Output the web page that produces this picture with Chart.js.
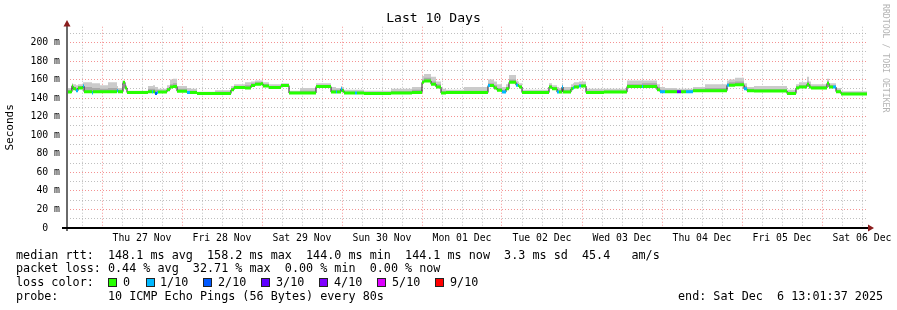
<!DOCTYPE html>
<html><head><meta charset="utf-8">
<script src="https://cdn.jsdelivr.net/npm/chart.js@4/dist/chart.umd.min.js"></script>
<style>
html,body{margin:0;padding:0;background:#fff;}
#wrap{position:relative;width:897px;height:310px;overflow:hidden;background:#fff;}
canvas{position:absolute;left:0;top:0;}
.t{position:absolute;font-family:"DejaVu Sans Mono",monospace;font-size:11.76px;line-height:14px;white-space:pre;color:#000;}
.box{position:absolute;width:7px;height:7px;border:1px solid #222;top:278px;}
#wm{position:absolute;left:881px;top:4px;writing-mode:vertical-rl;font-family:"DejaVu Sans Mono",monospace;font-size:8.2px;line-height:10px;color:#b4b4b4;white-space:pre;}
</style></head>
<body>
<div id="wrap">
<canvas id="c" width="897" height="310"></canvas>
<div id="wm">RRDTOOL / TOBI OETIKER</div>
<div class="t" style="left:16px;top:247.5px">median rtt:  148.1 ms avg  158.2 ms max  144.0 ms min  144.1 ms now  3.3 ms sd  45.4   am/s</div>
<div class="t" style="left:16px;top:261.3px">packet loss: 0.44 % avg  32.71 % max  0.00 % min  0.00 % now</div>
<div class="t" style="left:16px;top:275.3px">loss color:</div>
<div id="legend"></div>
<div class="t" style="left:16px;top:289px">probe:       10 ICMP Echo Pings (56 Bytes) every 80s</div>
<div class="t" style="left:678px;top:289px">end: Sat Dec  6 13:01:37 2025</div>
</div>
<script>
// ---- data (hours since window start; 10 days = 240 h) ----
const dayLabels = ['Thu 27 Nov','Fri 28 Nov','Sat 29 Nov','Sun 30 Nov','Mon 01 Dec','Tue 02 Dec','Wed 03 Dec','Thu 04 Dec','Fri 05 Dec','Sat 06 Dec'];
const yTickValues = [0,10,20,30,40,50,60,70,80,90,100,110,120,130,140,150,160,170,180,190,200,210];
const lossLegend = ['0','1/10','2/10','3/10','4/10','5/10','9/10'];
const lossLegendColors = ['#26ff00','#00b8ff','#0059ff','#5e00ff','#7e00ff','#dd00ff','#ff0000'];
const lossColors = ['#26ff00','#00b8ff','#0059ff','#5e00ff','#7e00ff','#dd00ff','#ff0000','#ff0000','#ff0000','#ff0000','#ff0000'];
const END_T = 240;
// step start times (h)
const T = [0,1.2,1.5,1.8,2.7,3.3,4.8,5.1,7.5,7.8,9.9,12.3,15,15.3,16.8,17.4,18,24.3,25.5,25.8,
 26.4,27,27.3,30,30.9,31.8,33,36,36.9,39,44.4,49.2,50.1,53.4,55.2,56.4,58.2,58.8,60.6,64.2,
 66.6,69.9,74.7,79.2,80.7,81,82.2,82.5,83.1,86.4,87,89.1,97.2,103.5,106.5,107.1,109.2,110.7,112.2,113.7,
 119.1,126.3,126.9,128.1,129,130.5,131.7,132.6,134.7,135.3,135.6,136.5,144.6,145.5,147,147.6,148.5,148.8,151.2,151.8,
 152.1,153.6,154.2,155.7,161.1,168,172.5,172.8,177,177.9,179.4,183,184.2,185.7,187.8,191.4,198,198.6,200.4,203.1,
 204,206.1,216,218.7,219.6,222,222.6,223.2,228,228.6,229.8,230.7,232.2];
// median rtt (ms)
const MED = [146.5,147,153,150,148,151,153,147,145.5,147,147,147,148,147,157,151,146,147,146.5,147,
 145,146,146.5,149,152,152.5,147.5,146,146,145,145,149,151.5,151,153.5,155,155.5,153,151.5,153.5,
 145.5,145.5,152.5,146.5,146.5,146.5,150,148,145.5,145.5,145.5,145,145.5,146,157,158.5,155,152,145.5,146,
 146,153.5,153.5,151,148.5,146.5,150,157,154,153.5,152,146,152,150,146.5,146.5,152,146.5,150,151,
 152,153,153,146,146.5,152.5,152.5,152.5,149,147,147,147,147,147,148,148,153.8,154,154.5,150,
 148,147.7,145,151,152,155,152,151,156,152,152,147,144.5];
// smoke: upper edge of the ping spread (ms)
const HI = [151,154,156,155,154,155,157,157,156,156,154,157,153,151,158,154,148,153,153,154,
 152,152,150,154,160,161,153,151,150,147,148.5,153,155,157,158,159,159,157,155,156,
 148,151,156,152,151,151,153,152,149,149,149,148,150,152,164,166,163,158,150,149,
 152,160,160,158,155,152,155,165,159,158,156,149,156,154,152,151,156,152,155,156,
 157,158,158,150,150,159,160,159,155,152,151,150,150,150,152,155,159,160,162,156,
 152,153,149,155,157,163,158,155,161,156,156,151,147.5];
// smoke: inner (denser) part of the ping spread (ms)
const MID = [149,151,154,152,151,153,155,152,151,151,150,151,150,149,157.5,152,147,150,150,150,
 149,149,148,151,155,156,150,148,148,146,147,151,153,154,156,157,157,155,153,155,
 147,148,154,149,149,149,151,150,147,147,147,146.5,147.5,149,160,162,158,155,147.5,147.5,
 148,156,156,154,151,149,152,160,156,155,154,147.5,154,152,149,149,154,149,152,153,
 154,155,155,148,148,155,156,156,152,149,149,148.5,148.5,148.5,150,151,156,157,158,153,
 150,149.5,147,153,154,158,155,153,158,154,154,149,146];
// loss class per step (pings lost out of 10)
const LOSS = [0,0,0,0,1,0,1,0,1,0,0,0,1,0,0,0,0,0,1,0,
 2,1,0,0,0,0,0,1,0,0,0,0,0,0,0,0,0,0,0,0,
 0,0,0,0,1,0,1,0,0,1,0,0,0,0,0,0,0,0,0,0,
 0,1,0,0,0,1,0,0,1,0,0,0,0,0,1,0,1,0,0,1,
 0,1,0,0,0,0,1,0,0,1,0,3,0,1,0,0,1,0,0,1,
 0,0,0,0,0,0,0,0,0,0,1,0,0];

// ---- legend boxes ----
const boxX = [108,146,203,261,319,377,435];
const labX = [123,160,218,276,334,392,450];
const leg = document.getElementById('legend');
lossLegend.forEach((s,i)=>{
  const b=document.createElement('div'); b.className='box'; b.style.left=boxX[i]+'px'; b.style.background=lossLegendColors[i]; leg.appendChild(b);
  const t=document.createElement('div'); t.className='t'; t.style.left=labX[i]+'px'; t.style.top='275.3px'; t.textContent=s; leg.appendChild(t);
});

// ---- reshape into chart points ----
function stepPts(arr){
  const p = T.map((t,i)=>({x:t,y:arr[i]}));
  p.push({x:END_T,y:arr[arr.length-1]});
  return p;
}
const bandPts = [];
for(let i=0;i<T.length;i++){
  const t1 = i+1<T.length ? T[i+1] : END_T;
  bandPts.push({x:T[i],y:MED[i]},{x:t1,y:MED[i]},{x:t1,y:null});
}

const RED = 'rgba(240,110,110,0.75)';
const GRAY = 'rgba(170,170,170,0.75)';
const MONO = '"DejaVu Sans Mono", monospace';

const axesPlugin = {
  id:'axes',
  afterDatasetsDraw(chart){
    const ctx=chart.ctx, a=chart.chartArea;
    ctx.save();
    ctx.fillStyle='#6a6a6a';
    ctx.fillRect(a.left-1, 24, 2, a.bottom-24+3);
    ctx.fillStyle='#000';
    ctx.fillRect(62, a.bottom-1, a.right+1-62, 2);
    ctx.fillStyle='#8a1c1c';
    ctx.beginPath(); ctx.moveTo(a.left-3.5,26.5); ctx.lineTo(a.left+3.5,26.5); ctx.lineTo(a.left,20); ctx.closePath(); ctx.fill();
    ctx.beginPath(); ctx.moveTo(a.right+1,a.bottom-3.5); ctx.lineTo(a.right+1,a.bottom+3.5); ctx.lineTo(a.right+7,a.bottom); ctx.closePath(); ctx.fill();
    ctx.restore();
  }
};

new Chart(document.getElementById('c'), {
  type:'line',
  data:{datasets:[
    {label:'median', data:stepPts(MED), stepped:true, borderColor:'#202020', borderWidth:1, pointRadius:0, fill:false, order:2},
    {label:'smoke', data:stepPts(HI), stepped:true, borderWidth:0, borderColor:'rgba(0,0,0,0)', backgroundColor:'#cbcbcb', pointRadius:0, fill:0, order:4},
    {label:'smoke2', data:stepPts(MID), stepped:true, borderWidth:0, borderColor:'rgba(0,0,0,0)', backgroundColor:'#a9a9a9', pointRadius:0, fill:0, order:3},
    {label:'loss', data:bandPts, borderWidth:3, borderCapStyle:'butt', pointRadius:0, spanGaps:false, fill:false, order:1,
      borderColor:'#26ff00',
      segment:{borderColor: c => lossColors[LOSS[Math.floor(c.p0DataIndex/3)]]}}
  ]},
  options:{
    responsive:false, animation:false, devicePixelRatio:1,
    layout:{padding:{left:0,right:30,top:0,bottom:0}},
    plugins:{
      legend:{display:false}, tooltip:{enabled:false},
      title:{display:true, text:'Last 10 Days', color:'#000', font:{family:MONO, size:13.1, weight:'normal'}, padding:{top:11,bottom:0}}
    },
    scales:{
      x:{type:'linear', min:0, max:END_T,
        afterBuildTicks:s=>{ s.ticks=[]; for(let k=0;k<40;k++) s.ticks.push({value:4.5+6*k}); },
        afterFit:s=>{ s.height=82; },
        ticks:{autoSkip:false, maxRotation:0, minRotation:0, padding:5, color:'#000', font:{family:MONO, size:9.8},
          callback:v=>{ const k=(v-22.5)/24; return (Number.isInteger(k)&&k>=0&&k<dayLabels.length)?dayLabels[k]:''; }},
        grid:{drawTicks:false, lineWidth:1, color:c=>{ const v=c.tick.value; return Number.isInteger((v-10.5)/24)?RED:GRAY; }},
        border:{display:false, dash:[1,2]}
      },
      y:{min:0, max:217,
        afterBuildTicks:s=>{ s.ticks=yTickValues.map(v=>({value:v})); },
        afterFit:s=>{ s.width=67; },
        ticks:{autoSkip:false, padding:7, color:'#000', font:{family:MONO, size:9.8},
          callback:v=> v===0 ? '0  ' : (v%20===0 ? v+' m' : '')},
        grid:{drawTicks:false, lineWidth:1, color:c=>{ const v=c.tick.value; return v===0?'rgba(0,0,0,0)':(v%20===0?RED:GRAY); }},
        border:{display:false, dash:[1,2]},
        title:{display:true, text:'Seconds', color:'#000', font:{family:MONO, size:11}, padding:{top:4,bottom:4}}
      }
    }
  },
  plugins:[axesPlugin]
});
</script>
</body></html>
